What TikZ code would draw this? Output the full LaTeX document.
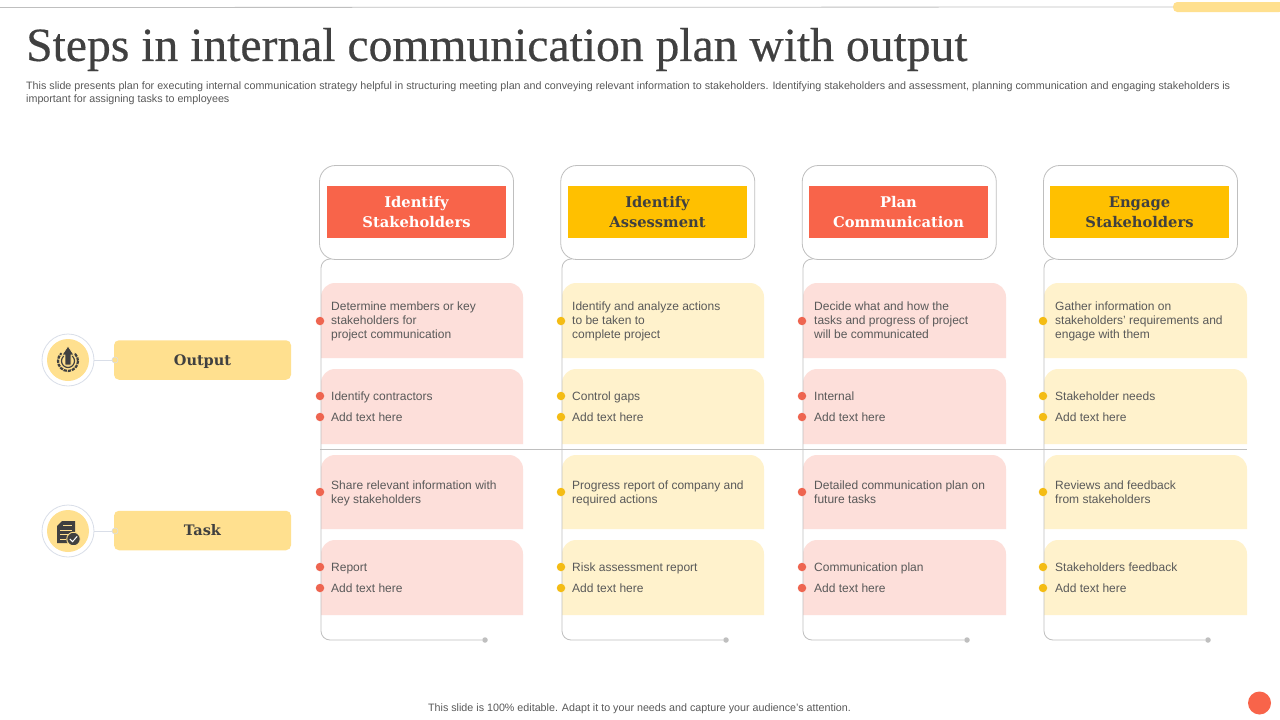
\documentclass[tikz,border=0pt]{standalone}
\usepackage{fontspec}
\setmainfont{Liberation Sans}
\newfontfamily\headfont{DejaVu Serif}
\newfontfamily\titlefont[FakeBold=0.4]{Liberation Serif}
\definecolor{redh}{HTML}{F8644A}
\definecolor{yelh}{HTML}{FFC000}
\definecolor{pinkc}{HTML}{FDDFDA}
\definecolor{yelc}{HTML}{FFF2CC}
\definecolor{tanb}{HTML}{FFE08F}
\definecolor{linec}{HTML}{BFBFBF}
\definecolor{txt}{HTML}{595959}
\definecolor{dark}{HTML}{404040}
\definecolor{ringc}{HTML}{D9DEE8}
\definecolor{bured}{HTML}{EE6550}
\definecolor{buyel}{HTML}{F4BC14}
\tikzset{
 x=1pt,y=-1pt,
 headbox/.style={draw=linec,line width=.8pt,rounded corners=16pt,fill=white,minimum width=194pt,minimum height=94pt,inner sep=0pt},
 headfill/.style={minimum width=179pt,minimum height=52pt,inner sep=0pt,align=center,font=\headfont\bfseries\fontsize{14.7}{20}\selectfont},
 body/.style={anchor=west,inner sep=0pt,text=txt,align=left,yshift=-1.4pt,font=\fontsize{12}{14}\selectfont,execute at begin node=\strut,execute at end node=\strut},
 bullet/.style={circle,minimum size=8.5pt,inner sep=0pt},
 rail/.style={draw=linec,line width=.8pt,rounded corners=9pt},
 sidebox/.style={fill=tanb,rounded corners=5pt,minimum width=177pt,minimum height=39.5pt,inner sep=0pt,text=dark,font=\headfont\bfseries\fontsize{14.5}{18}\selectfont,execute at begin node=\strut},
 ringnode/.style={circle,draw=ringc,line width=.8pt,fill=white,minimum size=52pt,inner sep=0pt},
 disc/.style={circle,fill=tanb,minimum size=42pt,inner sep=0pt},
 joint/.style={circle,draw=ringc,fill=tanb,line width=.6pt,minimum size=6pt,inner sep=0pt}
}
% #1 left of card, #2 top, #3 bottom, #4 colour, #5 width
\newcommand{\card}[5]{\fill[#4] (#1,#3) -- (#1,#2+14) arc[start angle=180,end angle=270,radius=14] -- (#1+#5-14,#2) arc[start angle=270,end angle=360,radius=14] -- (#1+#5,#3) -- cycle;}
\begin{document}
\begin{tikzpicture}
\useasboundingbox (0,0) rectangle (1280,720);
\fill[white] (0,0) rectangle (1280,720);
% top rule and tab
\coordinate (ruleL) at (0,7.5);
\node[fill=tanb,rounded corners=4pt,minimum width=110pt,minimum height=10pt,inner sep=0pt,anchor=west] (tab) at (1173,7) {};
\draw[linec,line width=.8pt] (ruleL) -- (tab.west);
\node[anchor=west,inner sep=0pt,text=dark,font=\titlefont\fontsize{47.6}{50}\selectfont] (title) at (26,49.5) {Steps in internal communication plan with output};
\node[anchor=north west,inner sep=0pt,text=txt,align=left,font=\fontsize{10.72}{13}\selectfont] (sub) at (26,81.5) {This slide presents plan for executing internal communication strategy helpful in structuring meeting plan and conveying relevant information to stakeholders. Identifying stakeholders and assessment, planning communication and engaging stakeholders is\\important for assigning tasks to employees};

% cards and rails
\foreach \i/\hx/\cx/\cw/\hc/\cc/\bc in {1/416.5/321/202/redh/pinkc/bured,2/657.75/562/202/yelh/yelc/buyel,3/899.25/803/203/redh/pinkc/bured,4/1140.5/1044/203/yelh/yelc/buyel}{
  \coordinate (ra\i) at (\cx,259);
  \coordinate (rb\i) at (\cx+10,259);
  \coordinate (rc\i) at (\cx,640);
  \node[circle,fill=linec,minimum size=5.5pt,inner sep=0pt] (re\i) at (\cx+164,640) {};
  \card{\cx}{283}{358}{\cc}{\cw}
  \card{\cx}{369}{444}{\cc}{\cw}
  \card{\cx}{455}{529}{\cc}{\cw}
  \card{\cx}{540}{615}{\cc}{\cw}
  \draw[rail] (rb\i) -| (rc\i) -- (re\i);
  \node[headbox] (hb\i) at (\hx,212.5) {};
  \foreach \y/\n in {321/a,396/b,417/c,492/d,567/e,588/f}
    \node[bullet,fill=\bc] (bu\i\n) at (\cx-1,\y) {};
}
\node[headfill,fill=redh,text=white] (h1) at (416.5,212) {Identify\\Stakeholders};
\node[headfill,fill=yelh,text=dark] (h2) at (657.5,212) {Identify\\Assessment};
\node[headfill,fill=redh,text=white] (h3) at (898.5,212) {Plan\\Communication};
\node[headfill,fill=yelh,text=dark] (h4) at (1139.5,212) {Engage\\Stakeholders};

\coordinate (midL) at (320,449.5);
\coordinate (midR) at (1247,449.5);
\draw[linec,line width=.8pt] (midL) -- (midR);

% column 1
\node[body] (t1a) at (331,321) {Determine members or key\\stakeholders for\\project communication};
\node[body] (t1b) at (331,396.5) {Identify contractors};
\node[body] (t1c) at (331,417.5) {Add text here};
\node[body] (t1d) at (331,492.8) {Share relevant information with\\key stakeholders};
\node[body] (t1e) at (331,567.5) {Report};
\node[body] (t1f) at (331,588.5) {Add text here};
% column 2
\node[body] (t2a) at (572,321) {Identify and analyze actions\\to be taken to\\complete project};
\node[body] (t2b) at (572,396.5) {Control gaps};
\node[body] (t2c) at (572,417.5) {Add text here};
\node[body] (t2d) at (572,492.8) {Progress report of company and\\required actions};
\node[body] (t2e) at (572,567.5) {Risk assessment report};
\node[body] (t2f) at (572,588.5) {Add text here};
% column 3
\node[body] (t3a) at (814,321) {Decide what and how the\\tasks and progress of project\\will be communicated};
\node[body] (t3b) at (814,396.5) {Internal};
\node[body] (t3c) at (814,417.5) {Add text here};
\node[body] (t3d) at (814,492.8) {Detailed communication plan on\\future tasks};
\node[body] (t3e) at (814,567.5) {Communication plan};
\node[body] (t3f) at (814,588.5) {Add text here};
% column 4
\node[body] (t4a) at (1055,321) {Gather information on\\stakeholders’ requirements and\\engage with them};
\node[body] (t4b) at (1055,396.5) {Stakeholder needs};
\node[body] (t4c) at (1055,417.5) {Add text here};
\node[body] (t4d) at (1055,492.8) {Reviews and feedback\\from stakeholders};
\node[body] (t4e) at (1055,567.5) {Stakeholders feedback};
\node[body] (t4f) at (1055,588.5) {Add text here};

% side items
\node[ringnode] (r1) at (68,360) {};
\node[disc] at (68,360) {};
\node[sidebox] (s1) at (202.5,360) {\raisebox{-2pt}{Output}};
\node[joint] (j1) at (115,360) {};
\draw[ringc,line width=.8pt] (r1) -- (j1);
\node[ringnode] (r2) at (68,531) {};
\node[disc] at (68,531) {};
\node[sidebox] (s2) at (202.5,530.5) {\raisebox{-1.5pt}{Task}};
\node[joint] (j2) at (115,531) {};
\draw[ringc,line width=.8pt] (r2) -- (j2);

% output icon
\draw[dark,line width=2.2pt,dash pattern=on 3.2pt off 1pt] (68,361) circle[radius=10];
\draw[dark,line width=1.2pt] (68,361) circle[radius=6.5];
\fill[tanb] (68,361) -- (56,346) -- (80,346) -- cycle;
\filldraw[dark,draw=tanb,line width=.8pt] (68,346) -- (74,355) -- (71,355) -- (71,365) -- (65,365) -- (65,355) -- (62,355) -- cycle;
% task icon
\fill[dark] (62,521) -- (75,521) -- (75,543) -- (57,543) -- (57,526) -- cycle;
\draw[tanb,line width=.7pt] (60,530) -- (72,530) (60,534.5) -- (68,534.5) (60,539) -- (66,539) (63,525.5) -- (72,525.5);
\node[circle,fill=dark,draw=tanb,line width=.9pt,minimum size=13.5pt,inner sep=0pt] (chk) at (73.5,539) {};
\draw[white,line width=1pt] (69.8,539) -- (72.5,541.7) -- (77.2,536.3);

\node[inner sep=0pt,text=txt,font=\fontsize{10.72}{12}\selectfont] (foot) at (639.5,709) {This slide is 100\% editable.  Adapt it to your needs and capture your audience’s attention.};
\node[circle,fill=redh,minimum size=23pt,inner sep=0pt] (dot) at (1259.5,703) {};
\end{tikzpicture}
\end{document}
